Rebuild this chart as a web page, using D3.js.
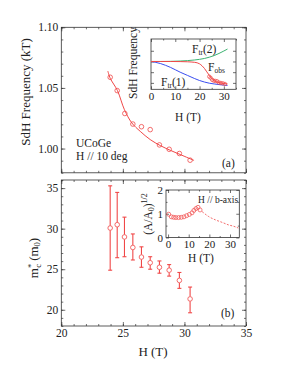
<!DOCTYPE html>
<html>
<head>
<meta charset="utf-8">
<script src="https://cdn.jsdelivr.net/npm/d3@7"></script>
<style>
  body { margin: 0; background: #fff; }
  svg text { font-family: "Liberation Serif", "Times New Roman", serif; fill: #222; }
</style>
</head>
<body>
<svg id="chart" width="291" height="376"></svg>
<script>
// panel (a): SdH frequency vs field
const fieldA = [23.97, 24.54, 25.16, 25.81, 26.51, 27.22, 27.97, 28.76, 29.59, 30.46];
const freqA = [1.0588, 1.0478, 1.0289, 1.0202, 1.018, 1.0156, 1.003, 0.9994, 0.9959, 0.9904];
const fitH = [23.78, 23.97, 24.56, 25.13, 25.73, 26.41, 27.22, 28.03, 28.84, 29.65, 30.78];
const fitF = [1.0639, 1.058, 1.0478, 1.032, 1.0211, 1.0142, 1.0074, 1.0025, 0.9986, 0.9951, 0.9902];

// inset (a): model curves
const insetH = [0, 4, 8, 12, 15, 18, 20, 22, 24, 26, 28, 30, 31.5];
const ftr2 = [1.2, 1.2, 1.201, 1.204, 1.208, 1.214, 1.22, 1.228, 1.24, 1.255, 1.275, 1.298, 1.316];
const ftr1 = [1.2, 1.18, 1.145, 1.1, 1.07, 1.04, 1.022, 1.008, 0.997, 0.99, 0.984, 0.979, 0.976];
const fobs = [1.2, 1.2, 1.2, 1.199, 1.197, 1.192, 1.178, 1.135, 1.07, 1.022, 1.003, 0.994, 0.99];

// panel (b): effective mass with error bars
const fieldB = [23.97, 24.54, 25.13, 25.81, 26.51, 27.22, 27.97, 28.76, 29.59, 30.46];
const massB = [30.08, 30.49, 28.98, 27.68, 26.5, 25.8, 25.24, 24.88, 23.62, 21.34];
const massHi = [35.28, 34.47, 31.42, 29.35, 27.76, 26.54, 26.02, 25.57, 24.6, 22.8];
const massLo = [24.88, 26.42, 26.54, 26.14, 25.24, 25.0, 24.51, 24.15, 22.64, 19.63];

// inset (b): (A/A0)^1/2 along b-axis
const fieldBin = [0.3, 1.6, 2.7, 3.8, 5.1, 6.4, 7.7, 9.0, 10.3, 11.6, 12.5, 13.5, 14.5, 15.5];
const ratioBin = [0.98, 0.87, 0.85, 0.84, 0.84, 0.85, 0.87, 0.92, 0.97, 1.04, 1.14, 1.22, 1.27, 1.16];
const dashH = [16.5, 19.7, 23, 26.1, 29.3, 31.5, 34];
const dashR = [1.09, 0.88, 0.74, 0.64, 0.53, 0.48, 0.4];

const red = '#f04848', green = '#3cb371', blue = '#3a4ef0';
const svg = d3.select('#chart');

function frame(x, y, o) {
  const g = svg.append('g');
  const [x0, x1] = x.range(), [y1, y0] = y.range();
  g.append('rect').attr('x', x0).attr('y', y0).attr('width', x1 - x0).attr('height', y1 - y0)
    .attr('fill', 'none').attr('stroke', '#333').attr('stroke-width', 0.8);
  const add = (axis, tr, vals, size, fmt, fs) => {
    const a = g.append('g').attr('transform', tr)
      .call(axis.tickValues(vals).tickSize(size).tickSizeOuter(0).tickPadding(3).tickFormat(fmt));
    a.select('.domain').remove();
    a.selectAll('line').attr('stroke', '#333').attr('stroke-width', 0.7);
    a.selectAll('text').attr('font-size', fs).attr('fill', '#222').attr('font-family', 'Liberation Serif');
  };
  const blank = () => '';
  const fs = o.fs || 11.5;
  add(d3.axisLeft(y), `translate(${x0},0)`, o.yMajor, -o.tl, o.yLabels ? o.yFmt : blank, fs);
  add(d3.axisLeft(y), `translate(${x0},0)`, o.yMinor, -o.tl / 2, blank, fs);
  add(d3.axisRight(y), `translate(${x1},0)`, o.yMajor, -o.tl, blank, fs);
  add(d3.axisRight(y), `translate(${x1},0)`, o.yMinor, -o.tl / 2, blank, fs);
  add(d3.axisBottom(x), `translate(0,${y1})`, o.xMajor, -o.tl, o.xLabels ? o.xFmt : blank, fs);
  add(d3.axisBottom(x), `translate(0,${y1})`, o.xMinor, -o.tl / 2, blank, fs);
  add(d3.axisTop(x), `translate(0,${y0})`, o.xMajor, -o.tl, blank, fs);
  add(d3.axisTop(x), `translate(0,${y0})`, o.xMinor, -o.tl / 2, blank, fs);
  return g;
}

const x = d3.scaleLinear().domain([20, 35]).range([61.3, 246]);
const majH = [20, 25, 30, 35], minH = d3.range(20, 35.01, 1);

// ---- panel (a)
const yA = d3.scaleLinear().domain([0.98, 1.10]).range([172.8, 27.3]);
frame(x, yA, { yMajor: [1.0, 1.05, 1.10], yMinor: d3.range(0.98, 1.101, 0.01), yLabels: true,
  yFmt: d3.format('.2f'), xMajor: majH, xMinor: minH, xLabels: false, tl: 4 });

svg.append('path').datum(fitH.map((h, i) => [h, fitF[i]]))
  .attr('d', d3.line().x(d => x(d[0])).y(d => yA(d[1])).curve(d3.curveCatmullRom))
  .attr('fill', 'none').attr('stroke', red).attr('stroke-width', 1);
svg.append('g').selectAll('circle').data(fieldA).join('circle')
  .attr('cx', d => x(d)).attr('cy', (d, i) => yA(freqA[i])).attr('r', 2.3)
  .attr('fill', 'none').attr('stroke', red).attr('stroke-width', 0.8);

svg.append('text').attr('transform', 'translate(30,92) rotate(-90)').attr('text-anchor', 'middle')
  .attr('font-size', 13).text('SdH Frequency (kT)');
svg.append('text').attr('x', 76).attr('y', 147).attr('font-size', 11.5).text('UCoGe');
svg.append('text').attr('x', 76).attr('y', 159.5).attr('font-size', 11.5).text('H // 10 deg');
svg.append('text').attr('x', 222).attr('y', 167).attr('font-size', 11.5).text('(a)');

// ---- inset (a)
const xIa = d3.scaleLinear().domain([0, 35]).range([151, 236]);
const yIa = d3.scaleLinear().domain([0.94, 1.41]).range([89.3, 39]);
svg.append('rect').attr('x', 151).attr('y', 39).attr('width', 85).attr('height', 50.3).attr('fill', '#fff');
frame(xIa, yIa, { yMajor: [1.0, 1.1, 1.2, 1.3], yMinor: [], yLabels: false,
  xMajor: [0, 10, 20, 30], xMinor: [5, 15, 25, 35], xLabels: true, xFmt: d3.format('d'), tl: 3, fs: 11 });
const lineIa = d3.line().x(d => xIa(d[0])).y(d => yIa(d[1])).curve(d3.curveMonotoneX);
[[ftr2, green], [ftr1, blue], [fobs, red]].forEach(([vals, c]) => {
  svg.append('path').datum(insetH.map((h, i) => [h, vals[i]]))
    .attr('d', lineIa).attr('fill', 'none').attr('stroke', c).attr('stroke-width', 1);
});
svg.append('g').selectAll('circle').data(fieldA).join('circle')
  .attr('cx', d => xIa(d)).attr('cy', (d, i) => yIa(freqA[i])).attr('r', 1.7)
  .attr('fill', 'none').attr('stroke', red).attr('stroke-width', 0.7);

function sublabel(xp, yp, main, sub, tail, fs) {
  const t = svg.append('text').attr('x', xp).attr('y', yp).attr('font-size', fs);
  t.append('tspan').text(main);
  t.append('tspan').attr('font-size', fs * 0.65).attr('dy', 2).text(sub);
  if (tail) t.append('tspan').attr('dy', -2).text(tail);
}
sublabel(192, 52.5, 'F', 'tr', '(2)', 11.5);
sublabel(208, 70.5, 'F', 'obs', null, 11.5);
sublabel(161, 86, 'F', 'tr', '(1)', 11.5);
svg.append('text').attr('transform', 'translate(137,63) rotate(-90)').attr('text-anchor', 'middle')
  .attr('font-size', 11.5).text('SdH Frequency');
svg.append('text').attr('x', 188).attr('y', 121).attr('text-anchor', 'middle')
  .attr('font-size', 11.5).text('H (T)');

// ---- panel (b)
const yB = d3.scaleLinear().domain([18, 36]).range([326, 180]);
frame(x, yB, { yMajor: [20, 25, 30, 35], yMinor: d3.range(18, 36.01, 1), yLabels: true,
  yFmt: d3.format('d'), xMajor: majH, xMinor: minH, xLabels: true, xFmt: d3.format('d'), tl: 4 });

const eb = svg.append('g').attr('stroke', red).attr('stroke-width', 1.1);
fieldB.forEach((h, i) => {
  const cx = x(h);
  eb.append('line').attr('x1', cx).attr('x2', cx).attr('y1', yB(massHi[i])).attr('y2', yB(massB[i]) - 2.3);
  eb.append('line').attr('x1', cx).attr('x2', cx).attr('y1', yB(massB[i]) + 2.3).attr('y2', yB(massLo[i]));
  eb.append('line').attr('x1', cx - 2).attr('x2', cx + 2).attr('y1', yB(massHi[i])).attr('y2', yB(massHi[i]));
  eb.append('line').attr('x1', cx - 2).attr('x2', cx + 2).attr('y1', yB(massLo[i])).attr('y2', yB(massLo[i]));
});
svg.append('g').selectAll('circle').data(fieldB).join('circle')
  .attr('cx', d => x(d)).attr('cy', (d, i) => yB(massB[i])).attr('r', 2.3)
  .attr('fill', '#fff').attr('stroke', red).attr('stroke-width', 0.8);

const mlab = svg.append('text').attr('transform', 'translate(38,258) rotate(-90)')
  .attr('text-anchor', 'middle').attr('font-size', 13);
mlab.append('tspan').text('m');
mlab.append('tspan').attr('font-size', 8.5).attr('dy', -4).text('*');
mlab.append('tspan').attr('font-size', 8.5).attr('dx', -4).attr('dy', 7).text('c');
mlab.append('tspan').attr('dy', -3).text(' (m');
mlab.append('tspan').attr('font-size', 8.5).attr('dy', 2).text('0');
mlab.append('tspan').attr('dy', -2).text(')');
svg.append('text').attr('x', 221).attr('y', 317).attr('font-size', 11.5).text('(b)');
svg.append('text').attr('x', 153).attr('y', 356).attr('text-anchor', 'middle')
  .attr('font-size', 13).text('H (T)');

// ---- inset (b)
const xIb = d3.scaleLinear().domain([-1, 34.5]).range([166, 239.3]);
const yIb = d3.scaleLinear().domain([0, 2]).range([237.5, 190]);
svg.append('rect').attr('x', 166).attr('y', 190).attr('width', 73.3).attr('height', 47.5).attr('fill', '#fff');
frame(xIb, yIb, { yMajor: [0, 1, 2], yMinor: [0.5, 1.5], yLabels: true, yFmt: d3.format('d'),
  xMajor: [0, 10, 20, 30], xMinor: [5, 15, 25], xLabels: true, xFmt: d3.format('d'), tl: 3, fs: 11 });
svg.append('path').datum(dashH.map((h, i) => [h, dashR[i]]))
  .attr('d', d3.line().x(d => xIb(d[0])).y(d => yIb(d[1])).curve(d3.curveMonotoneX))
  .attr('fill', 'none').attr('stroke', red).attr('stroke-width', 0.8).attr('stroke-dasharray', '2,1.5');
svg.append('g').selectAll('circle').data(fieldBin).join('circle')
  .attr('cx', d => xIb(d)).attr('cy', (d, i) => yIb(ratioBin[i])).attr('r', 2)
  .attr('fill', 'none').attr('stroke', red).attr('stroke-width', 0.7);
svg.append('text').attr('x', 198).attr('y', 202.5).attr('font-size', 9.5).text('H // b-axis');
const alab = svg.append('text').attr('transform', 'translate(152,214) rotate(-90)')
  .attr('text-anchor', 'middle').attr('font-size', 11.5);
alab.append('tspan').text('(A/A');
alab.append('tspan').attr('font-size', 8).attr('dy', 2).text('0');
alab.append('tspan').attr('dy', -2).text(')');
alab.append('tspan').attr('font-size', 8).attr('dy', -5).text('1/2');
svg.append('text').attr('x', 201).attr('y', 262).attr('text-anchor', 'middle')
  .attr('font-size', 11.5).text('H (T)');
</script>
</body>
</html>
